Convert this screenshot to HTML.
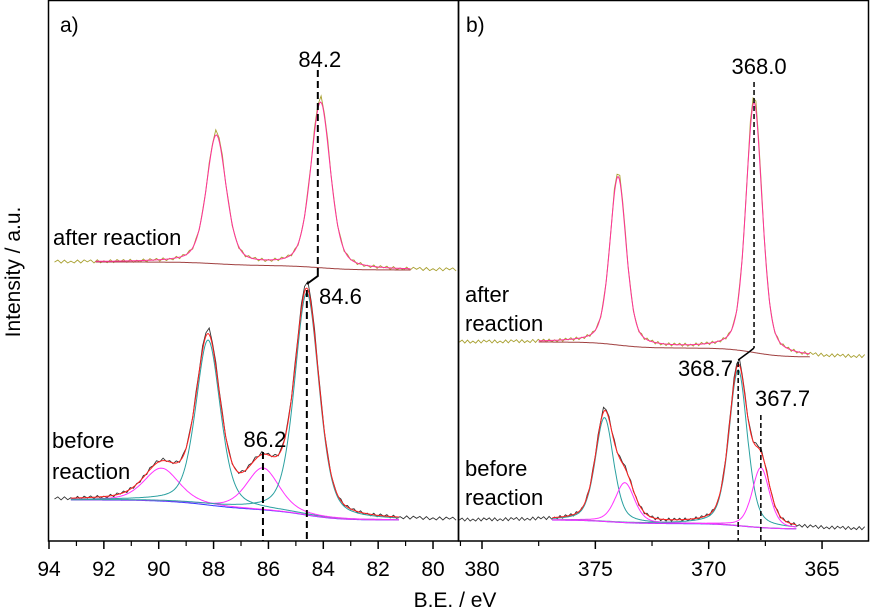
<!DOCTYPE html>
<html><head><meta charset="utf-8">
<style>
html,body{margin:0;padding:0;background:#fff;}
svg{display:block;font-family:"Liberation Sans",Arial,sans-serif;}
</style></head>
<body>
<svg id="chart" width="870" height="611" viewBox="0 0 870 611">
  <g id="plot"></g>
</svg>
<script>
// ---------- data ----------
const leftTicks = [94,92,90,88,86,84,82,80];
const rightTicks = [380,375,370,365];
// Panel a) after reaction: peak positions (eV), heights, FWHM
const aAfterPos = [87.9, 84.1];
const aAfterHeight = [128, 165];
const aAfterFwhm = [0.85, 0.85];
const aAfterBg = [279, 271];
const aAfterFit = [92.3, 80.8];
// Panel a) before reaction components
const aBeforePos = [89.9, 88.2, 86.2, 84.6];
const aBeforeHeight = [33, 165, 42, 222];
const aBeforeFwhm = [1.5, 1.05, 1.4, 1.05];
const aBeforeKind = ["pink","cyan","pink","cyan"];
const aBeforeBg = [41, 21];
const aBeforeFit = [93.2, 81.2];
// Panel b) after reaction
const bAfterPos = [374.0, 368.0];
const bAfterHeight = [168, 250];
const bAfterFwhm = [0.85, 0.85];
const bAfterBg = [199, 184];
const bAfterFit = [377.5, 365.5];
// Panel b) before reaction
const bBeforePos = [374.6, 373.7, 368.7, 367.7];
const bBeforeHeight = [104, 40, 156, 60];
const bBeforeFwhm = [0.95, 1.0, 0.95, 0.9];
const bBeforeKind = ["cyan","pink","cyan","pink"];
const bBeforeBg = [21, 12];
const bBeforeFit = [376.9, 366.1];
// Annotation values
const aLabels = ["84.2","84.6","86.2"];
const bLabels = ["368.0","368.7","367.7"];

// ---------- scales ----------
const PB = 541;
const xa = e => 49 + (94 - e) * 27.43;
const xb = e => 482 + (380 - e) * 22.67;
const y = v => PB - v;
const NS = "http://www.w3.org/2000/svg";
const plot = document.getElementById('plot');
function el(tag, attrs, parent){
  const e = document.createElementNS(NS, tag);
  for (const k in attrs) e.setAttribute(k, attrs[k]);
  (parent||plot).appendChild(e);
  return e;
}
function peak(e, c, h, w){
  const d = (e - c) / (w/2);
  const g = Math.exp(-Math.LN2 * d*d);
  const l = 1/(1 + d*d);
  return h*(0.6*g + 0.4*l);
}
function bgAt(e, bg, pos, hts){
  let tot = 0, part = 0;
  for (let i=0;i<pos.length;i++){
    tot += hts[i];
    part += hts[i] / (1 + Math.exp(-(e - pos[i]) / 0.6));
  }
  return bg[1] + (bg[0]-bg[1]) * part / tot;
}
function pathFrom(fx, e0, e1, fn, noise){
  let d = "", n = 0;
  const step = (e0 > e1 ? -1 : 1) * (noise ? 0.12 : 0.04);
  for (let e = e0; (step<0 ? e >= e1 : e <= e1); e += step){
    let v = fn(e);
    if (noise) v += ((n % 2) ? 1.5 : -1.5) * ((n%5===0)?0.3:1);
    d += (d ? "L" : "M") + fx(e).toFixed(1) + "," + y(v).toFixed(1);
    n++;
  }
  return d;
}
function line(d, color, name, w){
  const p = el('path', {d:d, fill:'none', stroke:color, 'stroke-width':w||1});
  
  
  return p;
}
function drawSet(fx, range, fit, pos, hts, fw, bg, kinds, prefix){
  const bgf = e => bgAt(e, bg, pos, hts);
  const sum = e => { let s = bgf(e); for (let i=0;i<pos.length;i++) s += peak(e,pos[i],hts[i],fw[i]); return s; };
  const rawColor = kinds ? '#333' : '#a8a030';
  const rawFn = e => { let s = sum(e); for (let i=0;i<pos.length;i++) s += peak(e,pos[i],hts[i]*0.03,fw[i]*0.6); return s; };
  line(pathFrom(fx, range[0], range[1], rawFn, true), rawColor, prefix+'-raw-data', 0.9);
  line(pathFrom(fx, fit[0], fit[1], bgf), kinds ? '#3333ff' : '#a04040', prefix+'-background', 1);
  if (kinds){
    for (let i=0;i<pos.length;i++){
      const c = kinds[i]==='cyan' ? '#2aa0a0' : '#ff33ff';
      line(pathFrom(fx, fit[0], fit[1], e => bgf(e) + peak(e,pos[i],hts[i],fw[i])), c, prefix+'-component-'+pos[i], 1);
    }
  }
  line(pathFrom(fx, fit[0], fit[1], sum), kinds ? '#ff2020' : '#ff3399', prefix+'-fit-envelope', 1);
}
function text(x, yy, s, name, size, anchor){
  const t = el('text', {x:x, y:yy, 'font-size':size||22, fill:'#000', 'text-anchor':anchor||'start'});
  t.textContent = s;
  
  
  return t;
}
function dash(x1,y1,x2,y2,name,w){
  const l = el('line',{x1:x1,y1:y1,x2:x2,y2:y2,stroke:'#000','stroke-width':w||2,'stroke-dasharray':w?'5,3':'7,4'});
  
  
}

drawSet(xa, [93.8, 79.1], aBeforeFit, aBeforePos, aBeforeHeight, aBeforeFwhm, aBeforeBg, aBeforeKind, 'a-before');
drawSet(xa, [93.8, 79.1], aAfterFit, aAfterPos, aAfterHeight, aAfterFwhm, aAfterBg, null, 'a-after');
drawSet(xb, [381.0, 363.1], bBeforeFit, bBeforePos, bBeforeHeight, bBeforeFwhm, bBeforeBg, bBeforeKind, 'b-before');
drawSet(xb, [381.0, 363.1], bAfterFit, bAfterPos, bAfterHeight, bAfterFwhm, bAfterBg, null, 'b-after');

dash(xa(84.2), 70, xa(84.2), 270, 'dash-84-2');
line('M'+xa(84.2)+',270 L'+xa(84.2)+',276 L'+xa(84.6)+',284', '#000', 'shift-connector-a', 2);
dash(xa(84.6), 290, xa(84.6), 541, 'dash-84-6');
dash(xa(86.2), 452, xa(86.2), 541, 'dash-86-2');
text(xa(84.2)+2, 67, aLabels[0], 'label-84-2', 22, 'middle');
text(319, 304, aLabels[1], 'label-84-6', 22, 'start');
text(xa(86.2)+2, 447, aLabels[2], 'label-86-2', 22, 'middle');
text(60, 32, 'a)', 'panel-a-label', 21);
text(53, 245, 'after reaction', 'label-after-reaction-a', 22);
text(52, 448, 'before', 'label-before-a', 22);
text(52, 479, 'reaction', 'label-reaction-a', 22);

dash(xb(368.0), 82, xb(368.0), 348, 'dash-368-0', 1.5);
line('M'+xb(368.0)+',348 L'+(xb(368.0)-5)+',352 L'+xb(368.7)+',360', '#000', 'shift-connector-b', 1.5);
dash(xb(368.7), 362, xb(368.7), 541, 'dash-368-7', 1.5);
dash(xb(367.7), 415, xb(367.7), 541, 'dash-367-7', 1.5);
text(xb(368.0)+5, 74, bLabels[0], 'label-368-0', 22, 'middle');
text(733, 376, bLabels[1], 'label-368-7', 22, 'end');
text(755, 406, bLabels[2], 'label-367-7', 22, 'start');
text(466, 32, 'b)', 'panel-b-label', 21);
text(465, 302, 'after', 'label-after-b', 22);
text(465, 331, 'reaction', 'label-reaction-after-b', 22);
text(465, 476, 'before', 'label-before-b', 22);
text(465, 505, 'reaction', 'label-reaction-before-b', 22);

const fa = el('rect',{x:48.5,y:0.5,width:410,height:540.5,fill:'none',stroke:'#000','stroke-width':1.5});
 
const fb = el('rect',{x:458.5,y:0.5,width:410,height:540.5,fill:'none',stroke:'#000','stroke-width':1.5});
 
for (const t of leftTicks){
  const tk = el('line',{x1:xa(t),y1:PB,x2:xa(t),y2:PB+8,stroke:'#000','stroke-width':1.5});
   
  if (t>79.5){
    const m = el('line',{x1:xa(t-1),y1:PB,x2:xa(t-1),y2:PB+5,stroke:'#000','stroke-width':1.2});
     
  }
  text(xa(t), 576, String(t), 'x-tick-label-a', 21, 'middle');
}
for (const t of rightTicks){
  const tk = el('line',{x1:xb(t),y1:PB,x2:xb(t),y2:PB+8,stroke:'#000','stroke-width':1.5});
   
  if (t>365){
    const m = el('line',{x1:xb(t-2.5),y1:PB,x2:xb(t-2.5),y2:PB+5,stroke:'#000','stroke-width':1.2});
     
  }
  text(xb(t), 576, String(t), 'x-tick-label-b', 21, 'middle');
}
text(455, 607, 'B.E. / eV', 'x-axis-title', 21, 'middle');
const yt = text(0, 0, 'Intensity / a.u.', 'y-axis-title', 21, 'middle');
yt.setAttribute('transform','translate(20,272) rotate(-90)');
</script>
</body></html>
